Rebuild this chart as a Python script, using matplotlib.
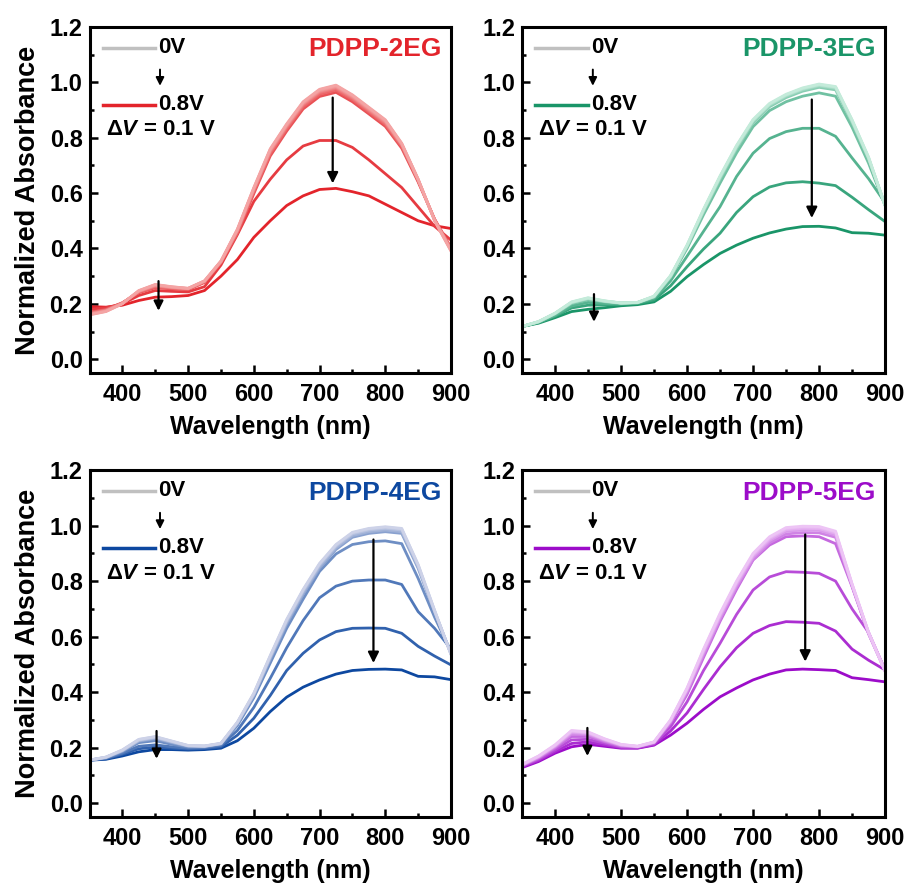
import matplotlib
matplotlib.use('Agg')
import matplotlib.pyplot as plt
import matplotlib.ticker as mtick
from matplotlib.colors import to_rgb
import numpy as np

plt.rcParams['font.family'] = ['Liberation Sans', 'DejaVu Sans']
plt.rcParams['mathtext.fontset'] = 'custom'
plt.rcParams['mathtext.rm'] = 'Liberation Sans:bold'
plt.rcParams['mathtext.it'] = 'Liberation Sans:italic:bold'
plt.rcParams['mathtext.bf'] = 'Liberation Sans:bold'

# wavelength grid (nm)
wavelength = [350, 375, 400, 425, 450, 475, 500, 525, 550, 575, 600, 625,
              650, 675, 700, 725, 750, 775, 800, 825, 850, 875, 900]

# normalized absorbance, one row per bias 0 V ... 0.8 V
abs_2eg = [
    [.160, .172, .200, .248, .270, .262, .256, .283, .355, .470, .620, .760, .850, .930, .975, .990, .955, .910, .865, .780, .650, .500, .390],
    [.161, .173, .201, .247, .269, .261, .256, .283, .354, .468, .618, .758, .848, .928, .973, .988, .953, .908, .863, .779, .650, .501, .392],
    [.163, .174, .201, .246, .268, .260, .255, .282, .353, .467, .616, .755, .845, .925, .970, .985, .950, .905, .860, .777, .649, .502, .394],
    [.164, .175, .202, .245, .266, .259, .255, .281, .352, .465, .613, .752, .842, .922, .967, .982, .947, .902, .857, .775, .648, .503, .396],
    [.166, .177, .202, .244, .264, .258, .254, .280, .351, .462, .610, .748, .838, .918, .963, .978, .943, .898, .853, .772, .646, .504, .398],
    [.168, .178, .203, .242, .261, .256, .253, .279, .350, .458, .605, .742, .832, .912, .957, .972, .938, .893, .848, .768, .644, .505, .400],
    [.170, .180, .204, .240, .258, .254, .251, .277, .348, .454, .598, .734, .824, .904, .949, .964, .930, .886, .841, .762, .640, .506, .403],
    [.180, .186, .200, .230, .248, .245, .243, .262, .340, .450, .570, .650, .720, .770, .790, .790, .765, .720, .670, .620, .550, .480, .430],
    [.190, .188, .195, .212, .224, .226, .230, .248, .300, .360, .440, .500, .555, .590, .613, .617, .605, .590, .560, .530, .500, .482, .472],
]

abs_3eg = [
    [.118, .136, .166, .207, .222, .211, .203, .205, .228, .302, .412, .542, .662, .772, .866, .924, .957, .980, .994, .985, .865, .730, .555],
    [.118, .136, .166, .206, .221, .210, .203, .205, .227, .301, .411, .540, .660, .770, .864, .922, .955, .978, .992, .983, .863, .728, .555],
    [.118, .135, .165, .205, .220, .210, .203, .205, .226, .300, .410, .538, .658, .768, .862, .920, .953, .976, .990, .981, .861, .727, .556],
    [.118, .135, .165, .204, .219, .209, .203, .205, .226, .299, .408, .536, .655, .765, .859, .917, .950, .973, .987, .978, .858, .725, .556],
    [.118, .135, .164, .203, .217, .208, .202, .204, .225, .297, .405, .532, .650, .760, .854, .912, .945, .968, .982, .973, .854, .722, .557],
    [.118, .134, .162, .200, .214, .207, .202, .204, .224, .295, .400, .522, .636, .745, .840, .898, .930, .950, .962, .950, .838, .708, .555],
    [.118, .133, .158, .192, .205, .201, .200, .203, .220, .283, .372, .462, .551, .660, .744, .797, .822, .834, .834, .805, .727, .652, .565],
    [.118, .132, .155, .185, .195, .196, .198, .201, .214, .265, .334, .398, .455, .530, .587, .622, .637, .641, .636, .627, .585, .540, .497],
    [.118, .130, .150, .172, .180, .186, .193, .197, .207, .245, .298, .342, .382, .412, .437, .456, .470, .479, .480, .474, .457, .455, .448],
]

abs_4eg = [
    [.155, .166, .192, .230, .240, .224, .208, .206, .216, .292, .396, .532, .662, .770, .864, .932, .976, .990, .996, .990, .860, .695, .535],
    [.155, .166, .191, .229, .239, .223, .207, .206, .215, .291, .395, .530, .660, .768, .862, .930, .974, .988, .994, .988, .858, .694, .536],
    [.155, .165, .190, .227, .237, .222, .207, .205, .215, .290, .393, .527, .656, .764, .858, .926, .970, .984, .990, .984, .855, .692, .537],
    [.155, .165, .189, .225, .235, .220, .206, .205, .214, .288, .390, .523, .651, .758, .852, .920, .964, .978, .984, .978, .851, .690, .538],
    [.155, .164, .188, .223, .232, .218, .205, .204, .214, .286, .387, .518, .645, .752, .846, .914, .958, .972, .978, .972, .846, .688, .539],
    [.155, .163, .185, .218, .225, .212, .202, .203, .212, .280, .380, .505, .630, .735, .835, .898, .932, .942, .945, .935, .810, .670, .545],
    [.155, .162, .180, .205, .210, .203, .198, .200, .208, .262, .345, .450, .560, .658, .740, .782, .800, .804, .804, .788, .690, .630, .555],
    [.155, .160, .176, .196, .202, .198, .195, .197, .203, .245, .306, .388, .478, .540, .588, .618, .630, .631, .630, .612, .565, .530, .498],
    [.155, .158, .170, .185, .193, .193, .191, .193, .198, .225, .270, .330, .382, .418, .444, .465, .478, .482, .483, .480, .457, .455, .445],
]

abs_5eg = [
    [.140, .170, .210, .262, .257, .232, .212, .205, .221, .300, .415, .555, .684, .800, .900, .960, .993, .998, .997, .980, .790, .615, .475],
    [.139, .169, .209, .260, .255, .231, .211, .205, .220, .299, .413, .552, .681, .797, .897, .957, .990, .995, .994, .977, .789, .615, .476],
    [.138, .168, .207, .257, .253, .229, .210, .204, .220, .297, .410, .548, .676, .792, .892, .952, .985, .990, .989, .972, .787, .614, .476],
    [.137, .166, .205, .253, .250, .227, .209, .204, .219, .295, .406, .542, .670, .786, .886, .946, .979, .984, .983, .966, .785, .613, .477],
    [.136, .164, .202, .248, .246, .224, .207, .203, .218, .292, .400, .534, .662, .778, .878, .938, .970, .975, .974, .958, .782, .612, .477],
    [.135, .162, .198, .240, .240, .221, .205, .203, .217, .288, .392, .525, .655, .770, .876, .930, .960, .963, .960, .935, .780, .610, .478],
    [.133, .158, .192, .228, .230, .216, .202, .201, .214, .275, .365, .478, .576, .680, .768, .815, .834, .832, .828, .800, .700, .615, .480],
    [.131, .154, .186, .215, .221, .210, .200, .199, .211, .260, .325, .410, .491, .560, .612, .640, .654, .652, .648, .620, .555, .515, .480],
    [.128, .150, .180, .203, .212, .205, .198, .198, .209, .245, .288, .338, .383, .415, .444, .465, .480, .483, .481, .478, .452, .445, .437],
]

samples = ['PDPP-2EG', 'PDPP-3EG', 'PDPP-4EG', 'PDPP-5EG']
spectra = [abs_2eg, abs_3eg, abs_4eg, abs_5eg]
dark_colors = ['#E3242B', '#1A9568', '#0D48A0', '#9C0CC9']
light_colors = ['#F4A4A4', '#C4EBDA', '#CDD2E8', '#EDC4F5']

# arrows: (x, y_start, y_end) for the main band and the 450 nm shoulder
big_arrows = [(720, 0.955, 0.625), (789, 0.948, 0.500), (782, 0.960, 0.495), (779, 0.978, 0.500)]
small_arrows = [(455, 0.292, 0.165), (459, 0.245, 0.125), (452, 0.270, 0.150), (449, 0.281, 0.160)]

positions = [[0.0988, 0.5785, 0.3990, 0.3910],
             [0.5762, 0.5785, 0.4007, 0.3910],
             [0.0988, 0.0768, 0.3990, 0.3920],
             [0.5762, 0.0768, 0.4007, 0.3920]]

fig = plt.figure(figsize=(9.06, 8.85), dpi=100)

for k in range(4):
    ax = fig.add_axes(positions[k])
    rows = spectra[k]
    c0 = np.array(to_rgb(light_colors[k]))
    c1 = np.array(to_rgb(dark_colors[k]))
    n = len(rows)
    # darkest first so the pale low-bias spectra stay visible on top
    for i in reversed(range(n)):
        t = (i / (n - 1)) ** 1.5
        ax.plot(wavelength, rows[i], color=c0 * (1 - t) + c1 * t, lw=2.0,
                solid_joinstyle='round', solid_capstyle='round')

    xa, ya, yb = big_arrows[k]
    ax.annotate('', xy=(xa, yb), xytext=(xa, ya),
                arrowprops=dict(arrowstyle='-|>', color='k', lw=1.6, mutation_scale=16))
    xa, ya, yb = small_arrows[k]
    ax.annotate('', xy=(xa, yb), xytext=(xa, ya),
                arrowprops=dict(arrowstyle='-|>', color='k', lw=1.6, mutation_scale=14))

    # hand-made legend in the upper left corner
    ax.plot([0.036, 0.182], [0.94, 0.94], transform=ax.transAxes, color='#C0C0C0', lw=2.5)
    ax.plot([0.036, 0.182], [0.776, 0.776], transform=ax.transAxes, color=dark_colors[k], lw=2.5)
    ax.annotate('', xy=(0.195, 0.822), xytext=(0.195, 0.885), xycoords='axes fraction',
                arrowprops=dict(arrowstyle='-|>', color='k', lw=1.4, mutation_scale=12))
    ax.text(0.19, 0.94, '0V', transform=ax.transAxes, fontsize=16, fontweight='bold', va='center')
    ax.text(0.19, 0.776, '0.8V', transform=ax.transAxes, fontsize=16, fontweight='bold', va='center')
    ax.text(0.045, 0.703, 'Δ$\\mathit{V}$ = 0.1 V', transform=ax.transAxes, fontsize=16,
            fontweight='bold', va='center')
    ax.text(0.975, 0.935, samples[k], transform=ax.transAxes, fontsize=19, fontweight='bold',
            color=dark_colors[k], ha='right', va='center')

    ax.set_xlim(350, 900)
    ax.set_ylim(-0.05, 1.2)
    ax.xaxis.set_major_locator(mtick.MultipleLocator(100))
    ax.xaxis.set_minor_locator(mtick.MultipleLocator(50))
    ax.yaxis.set_major_locator(mtick.MultipleLocator(0.2))
    ax.yaxis.set_minor_locator(mtick.MultipleLocator(0.1))
    ax.yaxis.set_major_formatter(mtick.FormatStrFormatter('%.1f'))
    ax.tick_params(which='both', direction='in', top=False, right=False, width=1.8)
    ax.tick_params(which='major', length=6, labelsize=17)
    ax.tick_params(axis='x', which='major', pad=7)
    ax.tick_params(axis='y', which='major', pad=5)
    ax.tick_params(which='minor', length=3)
    for lab in ax.get_xticklabels() + ax.get_yticklabels():
        lab.set_fontweight('bold')
    for sp in ax.spines.values():
        sp.set_linewidth(2.2)

    ax.set_xlabel('Wavelength (nm)', fontsize=18, fontweight='bold', labelpad=7)
    if k % 2 == 0:
        ax.set_ylabel('Normalized Absorbance', fontsize=19.5, fontweight='bold', labelpad=6)

fig.savefig('out.png', dpi=100)
